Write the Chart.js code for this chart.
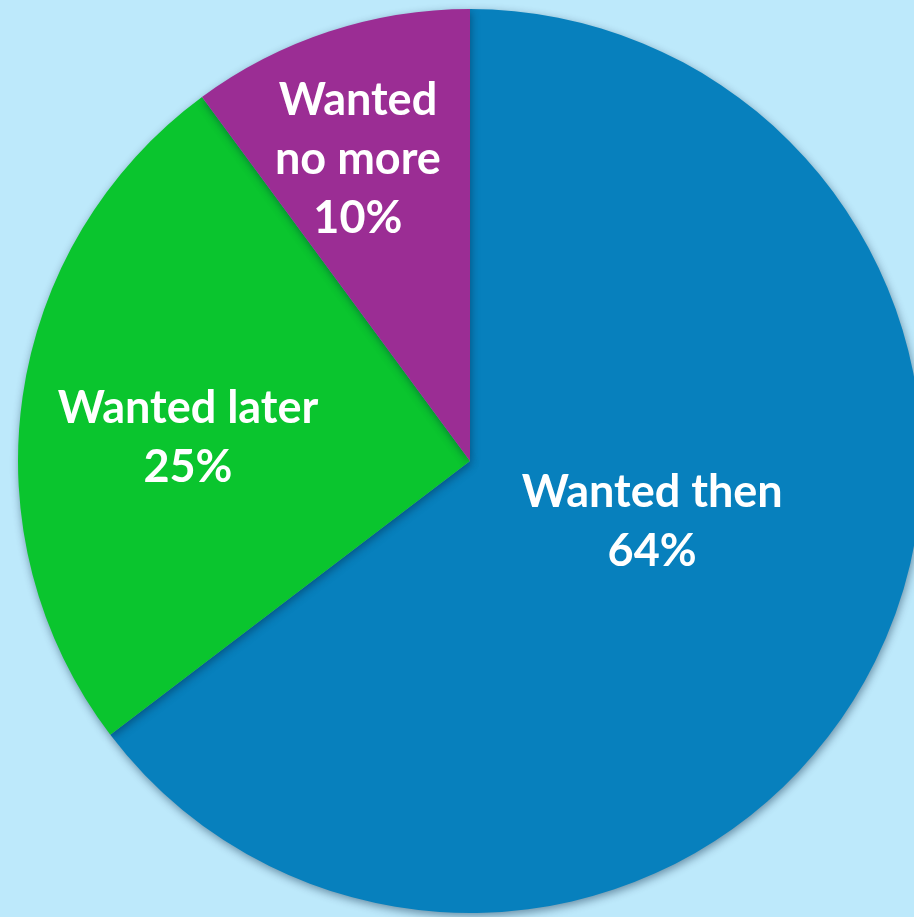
<!DOCTYPE html>
<html lang="en">
<head>
  <meta charset="UTF-8">
  <title>Wanted pie</title>
  <style>
    html, body {
      margin: 0;
      padding: 0;
      background-color: #bde9fb;
      overflow: hidden;
    }

    .chart-box {
      width: 922px;
      height: 917px;
    }
  </style>
</head>
<body>
  <div class="chart-box">
    <canvas id="pie-chart"></canvas>
  </div>
  <script src="https://cdn.jsdelivr.net/npm/chart.js"></script>
  <script>
    const categories = ["Wanted then", "Wanted later", "Wanted no more"];
    const labelLines = [["Wanted then", "64%"], ["Wanted later", "25%"], ["Wanted", "no more", "10%"]];
    const percentages = [64, 25, 10];
    const sliceColors = ["#0780bd", "#0ac52e", "#9b2d94"];

    // where each label block sits, in units of the pie radius from the centre
    const labelOffsets = [[0.403, 0.135], [-0.624, -0.052], [-0.248, -0.666]];

    const shadowPlugin = {
      id: "pieShadow",
      beforeDatasetsDraw(chart) {
        const ctx = chart.ctx;
        ctx.save();
        ctx.shadowColor = "rgba(0, 30, 60, 0.45)";
        ctx.shadowBlur = 8;
        ctx.shadowOffsetX = 1;
        ctx.shadowOffsetY = 3;
      },
      afterDatasetsDraw(chart) {
        chart.ctx.restore();
      }
    };

    const labelPlugin = {
      id: "sliceLabels",
      afterDatasetsDraw(chart) {
        const ctx = chart.ctx;
        const arcs = chart.getDatasetMeta(0).data;
        ctx.save();
        ctx.fillStyle = "#ffffff";
        ctx.font = "bold 45px Lato, 'Open Sans', sans-serif";
        ctx.textAlign = "center";
        ctx.textBaseline = "middle";
        arcs.forEach((arc, i) => {
          const r = arc.outerRadius;
          const cx = arc.x + labelOffsets[i][0] * r;
          const cy = arc.y + labelOffsets[i][1] * r;
          const lines = labelLines[i];
          const lineHeight = 59;
          const top = cy - (lines.length - 1) * lineHeight / 2;
          lines.forEach((line, j) => {
            ctx.fillText(line, cx, top + j * lineHeight);
          });
        });
        ctx.restore();
      }
    };

    new Chart(document.getElementById("pie-chart"), {
      type: "pie",
      data: {
        labels: categories,
        datasets: [
          {
            data: percentages,
            backgroundColor: sliceColors,
            borderWidth: 0
          }
        ]
      },
      options: {
        responsive: true,
        maintainAspectRatio: false,
        animation: false,
        layout: {
          padding: { left: 18, right: 0, top: 9, bottom: 4 }
        },
        plugins: {
          legend: { display: false },
          tooltip: { enabled: false }
        }
      },
      plugins: [shadowPlugin, labelPlugin]
    });
  </script>
</body>
</html>
